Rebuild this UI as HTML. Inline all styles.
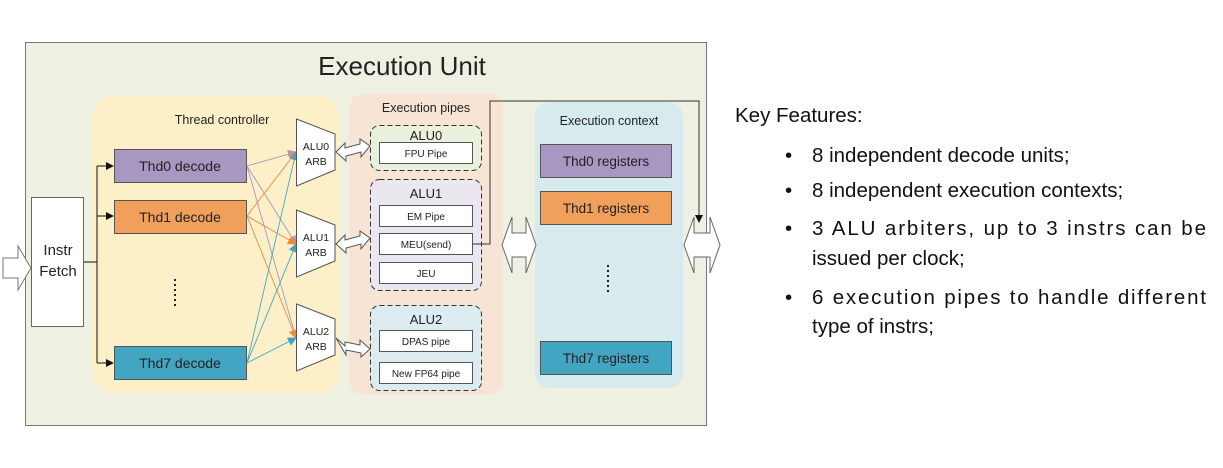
<!DOCTYPE html>
<html><head><meta charset="utf-8"><style>
html,body{margin:0;padding:0;background:#fff;width:1223px;height:468px;overflow:hidden}
text{font-family:"Liberation Sans",sans-serif}
</style></head><body>
<svg width="1223" height="468" viewBox="0 0 1223 468" xmlns="http://www.w3.org/2000/svg">
<defs>
<marker id="ak" markerWidth="8" markerHeight="8" refX="7" refY="4" orient="auto" markerUnits="userSpaceOnUse"><path d="M0,0 L8,4 L0,8z" fill="#111"/></marker>
<marker id="ap" markerWidth="9" markerHeight="9" refX="8" refY="4.5" orient="auto" markerUnits="userSpaceOnUse"><path d="M0,0 L9,4.5 L0,9z" fill="#a797c1"/></marker>
<marker id="ao" markerWidth="9" markerHeight="9" refX="8" refY="4.5" orient="auto" markerUnits="userSpaceOnUse"><path d="M0,0 L9,4.5 L0,9z" fill="#ee8a3a"/></marker>
<marker id="at" markerWidth="9" markerHeight="9" refX="8" refY="4.5" orient="auto" markerUnits="userSpaceOnUse"><path d="M0,0 L9,4.5 L0,9z" fill="#42a6c3"/></marker>
</defs>
<rect x="25.5" y="42.5" width="681" height="383" fill="#eef1e2" stroke="#777" stroke-width="1"/>
<text x="402" y="75" font-size="26" text-anchor="middle" fill="#222">Execution Unit</text>
<rect x="92" y="96" width="248" height="297" rx="22" fill="#fdf0c8"/>
<rect x="349" y="94" width="154" height="301" rx="14" fill="#f8e4d4"/>
<rect x="535" y="102" width="148" height="286" rx="14" fill="#d7eaee"/>
<text x="222" y="124" font-size="12.5" text-anchor="middle" fill="#222">Thread controller</text>
<text x="426" y="112" font-size="12.5" text-anchor="middle" fill="#222">Execution pipes</text>
<text x="609" y="125" font-size="12.5" text-anchor="middle" fill="#222">Execution context</text>
<path d="M3,258 L18,258 L18,246 L31,268 L18,290 L18,278 L3,278z" fill="#fff" stroke="#777"/>
<rect x="31.5" y="197.5" width="52" height="129" fill="#fff" stroke="#666"/>
<text x="58" y="255" font-size="15" text-anchor="middle" fill="#222">Instr</text>
<text x="58" y="276" font-size="15" text-anchor="middle" fill="#222">Fetch</text>
<path d="M84,262 H97 M97,166 V363" stroke="#111" fill="none"/>
<path d="M97,166 H113" stroke="#111" marker-end="url(#ak)"/>
<path d="M97,216 H113" stroke="#111" marker-end="url(#ak)"/>
<path d="M97,363 H113" stroke="#111" marker-end="url(#ak)"/>
<rect x="114.5" y="149.5" width="132" height="33" fill="#a797c1" stroke="#555"/>
<text x="180" y="171" font-size="14" text-anchor="middle" fill="#222">Thd0 decode</text>
<rect x="114.5" y="200.5" width="132" height="33" fill="#f1a05c" stroke="#555"/>
<text x="180" y="222" font-size="14" text-anchor="middle" fill="#222">Thd1 decode</text>
<rect x="114.5" y="346.5" width="132" height="33" fill="#42a6c3" stroke="#555"/>
<text x="180" y="368" font-size="14" text-anchor="middle" fill="#222">Thd7 decode</text>
<path d="M175,279 V308" stroke="#222" stroke-width="2" stroke-dasharray="2,3"/>
<path d="M608,265 V293" stroke="#222" stroke-width="2" stroke-dasharray="2,3"/>
<g fill="none" stroke-width="0.9">
<path d="M247,166 L296,152" stroke="#a797c1" marker-end="url(#ap)"/>
<path d="M247,166 L296,244" stroke="#a797c1" marker-end="url(#ap)"/>
<path d="M247,166 L296,338" stroke="#a797c1" marker-end="url(#ap)"/>
<path d="M247,216 L296,152" stroke="#ee8a3a" marker-end="url(#ao)"/>
<path d="M247,216 L296,244" stroke="#ee8a3a" marker-end="url(#ao)"/>
<path d="M247,216 L296,338" stroke="#ee8a3a" marker-end="url(#ao)"/>
<path d="M247,363 L296,152" stroke="#42a6c3" marker-end="url(#at)"/>
<path d="M247,363 L296,244" stroke="#42a6c3" marker-end="url(#at)"/>
<path d="M247,363 L296,338" stroke="#42a6c3" marker-end="url(#at)"/>
</g>
<g fill="#fff" stroke="#555">
<path d="M296.5,119 L335,134 L335,170 L296.5,186z"/>
<path d="M296.5,210 L335,225 L335,261 L296.5,277z"/>
<path d="M296.5,304 L335,319 L335,355 L296.5,371z"/>
</g>
<g font-size="10.5" text-anchor="middle" fill="#222">
<text x="316" y="150">ALU0</text><text x="316" y="165">ARB</text>
<text x="316" y="241">ALU1</text><text x="316" y="256">ARB</text>
<text x="316" y="335">ALU2</text><text x="316" y="350">ARB</text>
</g>
<g fill="#fff" stroke="#555">
<path d="M336,152 L345,143 L345,148 L360,144 L360,139 L370,146 L361,157 L361,152 L346,156 L346,161z"/>
<path d="M336,244 L345,235 L345,240 L360,236 L360,231 L370,238 L361,249 L361,244 L346,248 L346,253z"/>
<path d="M336,338 L345,346 L345,342 L360,345 L360,340 L370,349 L361,357 L361,353 L346,350 L346,355z"/>
</g>
<rect x="370.5" y="125.5" width="111" height="45" rx="9" fill="#e9f0dc" stroke="#333" stroke-dasharray="5,3"/>
<rect x="370.5" y="179.5" width="111" height="111" rx="9" fill="#ebe7f1" stroke="#333" stroke-dasharray="5,3"/>
<rect x="370.5" y="305.5" width="111" height="85" rx="9" fill="#dcecf0" stroke="#333" stroke-dasharray="5,3"/>
<g font-size="13" text-anchor="middle" fill="#222">
<text x="426" y="140">ALU0</text><text x="426" y="198">ALU1</text><text x="426" y="324">ALU2</text>
</g>
<g fill="#fff" stroke="#555">
<rect x="379.5" y="142.5" width="93" height="21"/>
<rect x="379.5" y="205.5" width="93" height="21"/>
<rect x="379.5" y="233.5" width="93" height="21"/>
<rect x="379.5" y="262.5" width="93" height="21"/>
<rect x="379.5" y="330.5" width="93" height="21"/>
<rect x="379.5" y="362.5" width="93" height="21"/>
</g>
<g font-size="10" text-anchor="middle" fill="#222">
<text x="426" y="157">FPU Pipe</text>
<text x="426" y="220">EM Pipe</text>
<text x="426" y="248">MEU(send)</text>
<text x="426" y="277">JEU</text>
<text x="426" y="345">DPAS pipe</text>
<text x="426" y="377">New FP64 pipe</text>
</g>
<path d="M473,244 H490 V101 H699 V222" stroke="#333" fill="none" marker-end="url(#ak)"/>
<path d="M502,245 L512,217 L512,233 L526,233 L526,217 L536,245 L526,273 L526,257 L512,257 L512,273z" fill="#fff" stroke="#666"/>
<path d="M684,245 L694,217 L694,233 L710,233 L710,217 L720,245 L710,273 L710,257 L694,257 L694,273z" fill="#fff" stroke="#666"/>
<rect x="540.5" y="144.5" width="131" height="33" fill="#a797c1" stroke="#555"/>
<text x="606" y="166" font-size="13.5" text-anchor="middle" fill="#222">Thd0 registers</text>
<rect x="540.5" y="191.5" width="131" height="33" fill="#f1a05c" stroke="#555"/>
<text x="606" y="213" font-size="13.5" text-anchor="middle" fill="#222">Thd1 registers</text>
<rect x="540.5" y="341.5" width="131" height="33" fill="#42a6c3" stroke="#555"/>
<text x="606" y="363" font-size="13.5" text-anchor="middle" fill="#222">Thd7 registers</text>
<g font-size="20.5" fill="#111">
<text x="735" y="122">Key Features:</text>
<text x="785" y="162">•</text><text x="812" y="162">8 independent decode units;</text>
<text x="785" y="197">•</text><text x="812" y="197">8 independent execution contexts;</text>
<text x="785" y="235">•</text><text x="812" y="235" textLength="394" lengthAdjust="spacing">3 ALU arbiters, up to 3 instrs can be</text>
<text x="812" y="265">issued per clock;</text>
<text x="785" y="304">•</text><text x="812" y="304" textLength="394" lengthAdjust="spacing">6 execution pipes to handle different</text>
<text x="812" y="333">type of instrs;</text>
</g>
</svg>
</body></html>
